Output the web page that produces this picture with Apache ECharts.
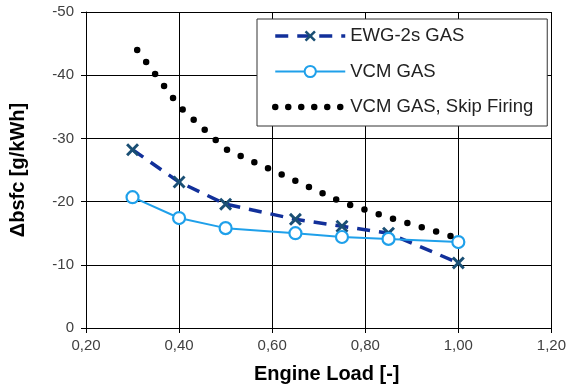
<!DOCTYPE html>
<html><head><meta charset="utf-8">
<script src="https://cdn.jsdelivr.net/npm/echarts@6/dist/echarts.min.js"></script>
<style>html,body{margin:0;padding:0;background:#fff}#c{width:569px;height:392px}</style>
</head><body><div id="c"></div>
<script>
var loads = [0.30, 0.40, 0.50, 0.65, 0.75, 0.85, 1.00];
var ewg = [-28.2, -23.1, -19.6, -17.2, -16.1, -15.0, -10.3];
var vcm = [-20.7, -17.4, -15.8, -15.0, -14.4, -14.1, -13.6];
var skipLoads = [0.31, 0.40, 0.50, 0.65, 0.75, 0.85, 1.00];
var skip = [-44.0, -35.1, -28.3, -23.3, -19.9, -17.5, -14.2];
var seriesNames = ['EWG-2s GAS', 'VCM GAS', 'VCM GAS, Skip Firing'];
var xTicks = {min: 0.2, max: 1.2, interval: 0.2};
var yTicks = {min: -50, max: 0, interval: 10};

function pairs(xs, ys){ return xs.map(function(x,i){ return [x, ys[i]]; }); }
var font = 'Liberation Sans, Arial, sans-serif';
var xSym = 'path://M0,1.6 L1.6,0 L5,3.4 L8.4,0 L10,1.6 L6.6,5 L10,8.4 L8.4,10 L5,6.6 L1.6,10 L0,8.4 L3.4,5 Z';

var chart = echarts.init(document.getElementById('c'), null, {renderer:'canvas'});
chart.setOption({
  animation: false,
  grid: {left: 84, right: 16, top: 12, bottom: 64, show: false},
  legend: {
    left: 257, top: 19, orient: 'vertical',
    data: [
      {name: seriesNames[0], lineStyle: {width: 3.5, type: [13, 9]}},
      {name: seriesNames[1], lineStyle: {width: 2}},
      {name: seriesNames[2], lineStyle: {width: 6.5, type: [0, 13], cap: 'round'}, itemStyle: {opacity: 0}}
    ],
    itemWidth: 70, itemHeight: 14, itemGap: 15.5,
    padding: [7, 14, 9, 15],
    borderColor: '#333', borderWidth: 1, backgroundColor: '#fff',
    textStyle: {fontFamily: font, fontSize: 18.5, lineHeight: 20, color: '#222'}
  },
  xAxis: {
    type: 'value', min: xTicks.min, max: xTicks.max, interval: xTicks.interval,
    position: 'bottom',
    name: 'Engine Load [-]', nameLocation: 'middle', nameGap: 36,
    nameTextStyle: {fontFamily: font, fontSize: 20, fontWeight: 'bold', color: '#000', padding: [0,0,0,16]},
    axisLine: {onZero: false, lineStyle: {color: '#000', width: 1}},
    axisTick: {show: true, length: 5, lineStyle: {color: '#000'}},
    axisLabel: {fontFamily: font, fontSize: 15, color: '#404040', margin: 10,
      formatter: function(v){ return v.toFixed(2).replace('.', ','); }},
    splitLine: {show: true, lineStyle: {color: '#000', width: 1}}
  },
  yAxis: {
    type: 'value', min: yTicks.min, max: yTicks.max, interval: yTicks.interval, inverse: true,
    name: 'Δbsfc [g/kWh]', nameLocation: 'middle', nameGap: 58,
    nameTextStyle: {fontFamily: font, fontSize: 20, fontWeight: 'bold', color: '#000'},
    axisLine: {show: true, onZero: false, lineStyle: {color: '#000', width: 1}},
    axisTick: {show: true, length: 5, lineStyle: {color: '#000'}},
    axisLabel: {fontFamily: font, fontSize: 15, color: '#404040', margin: 12},
    splitLine: {show: true, lineStyle: {color: '#000', width: 1}}
  },
  series: [
    {
      name: seriesNames[0], type: 'line', data: pairs(loads, ewg),
      symbol: xSym, symbolSize: 13,
      itemStyle: {color: '#1A4F74'},
      lineStyle: {color: '#12309A', width: 3.5, type: [13, 9]},
      z: 2
    },
    {
      name: seriesNames[1], type: 'line', data: pairs(loads, vcm),
      symbol: 'circle', symbolSize: 12,
      itemStyle: {color: '#fff', borderColor: '#1FA0EA', borderWidth: 2.2},
      lineStyle: {color: '#1FA0EA', width: 2},
      z: 3
    },
    {
      name: seriesNames[2], type: 'line', data: pairs(skipLoads, skip),
      symbol: 'none', showSymbol: false,
      itemStyle: {color: '#000'},
      lineStyle: {color: '#000', width: 6.5, type: [0, 15], cap: 'round'},
      z: 4
    }
  ]
});
</script></body></html>
